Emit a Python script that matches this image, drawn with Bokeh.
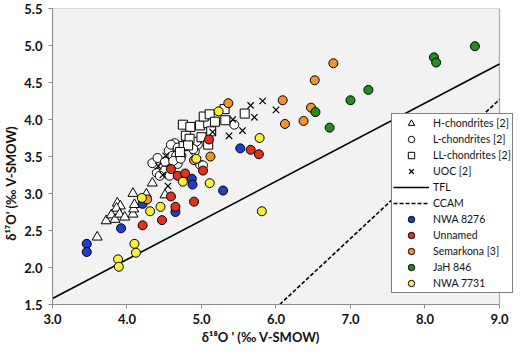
from bokeh.plotting import figure
from bokeh.models import (FixedTicker, PrintfTickFormatter, Legend, LegendItem,
                          BoxAnnotation)
from bokeh.embed import file_html
from bokeh.resources import INLINE

# ---------------- data ----------------
x_ticks = [3.0, 4.0, 5.0, 6.0, 7.0, 8.0, 9.0]
y_ticks = [1.5, 2.0, 2.5, 3.0, 3.5, 4.0, 4.5, 5.0, 5.5]

h_x = [3.60, 3.72, 3.79, 3.84, 3.87, 3.91, 3.86, 3.90, 3.97, 4.08, 4.09, 4.08, 4.10, 4.26, 4.34, 4.51]
h_y = [2.41, 2.63, 2.71, 2.65, 2.87, 2.83, 2.80, 2.72, 2.68, 2.72, 2.79, 3.00, 2.85, 2.99, 3.14, 2.98]

l_x = [4.34, 4.41, 4.40, 4.48, 4.50, 4.56, 4.64, 4.61, 4.66, 4.73, 4.68, 4.44, 4.57, 4.59, 4.51,
       4.62, 4.72, 4.91, 4.95, 4.98, 5.02, 5.44, 4.93, 4.89, 4.68]
l_y = [3.41, 3.48, 3.28, 3.36, 3.31, 3.58, 3.68, 3.51, 3.51, 3.51, 3.40, 3.24, 3.24, 3.66, 3.43,
       3.44, 3.47, 3.57, 3.66, 3.39, 3.38, 3.93, 3.70, 3.60, 3.62]

ll_x = [4.75, 4.85, 4.98, 5.09, 5.03, 5.11, 5.18, 5.31, 5.32, 5.58, 4.79, 4.84, 5.00, 5.13, 4.76, 4.82, 5.09, 4.71]
ll_y = [3.93, 3.90, 3.92, 3.95, 4.04, 4.07, 3.97, 4.14, 3.99, 4.08, 3.78, 3.74, 3.76, 3.84, 3.64, 3.65, 3.66, 3.56]

uoc_x = [5.66, 5.82, 6.00, 5.71, 5.55, 5.37, 5.42, 5.15, 4.52, 4.48, 4.55, 4.42]
uoc_y = [4.19, 4.25, 4.13, 4.03, 3.85, 3.78, 4.00, 3.83, 3.51, 3.25, 3.10, 3.37]

tfl_x = [3.0, 9.0]
tfl_y = [1.58, 4.75]

ccam_x = [6.05, 9.0]
ccam_y = [1.50, 4.27]

nwa8276_x = [3.46, 3.46, 3.92, 4.21, 4.65, 4.87, 4.88, 5.29, 5.52]
nwa8276_y = [2.32, 2.21, 2.53, 2.86, 2.75, 3.20, 3.12, 3.04, 3.61]

unnamed_x = [4.21, 4.47, 4.59, 4.65, 4.59, 4.68, 4.78, 5.02, 4.90, 5.10, 5.66, 5.77]
unnamed_y = [2.57, 2.64, 2.96, 2.82, 3.33, 3.24, 3.27, 3.31, 2.89, 3.73, 3.59, 3.53]

semarkona_x = [4.27, 4.90, 5.12, 5.36, 6.09, 6.12, 6.37, 6.47, 6.52, 6.77]
semarkona_y = [2.92, 3.45, 3.50, 4.22, 4.26, 3.94, 3.98, 4.16, 4.53, 4.76]

jah_x = [8.67, 8.12, 8.15, 7.24, 7.00, 6.53, 6.72]
jah_y = [4.99, 4.84, 4.77, 4.40, 4.26, 4.10, 3.89]

nwa7731_x = [3.88, 3.89, 4.10, 4.12, 4.20, 4.31, 4.45, 4.75, 5.11, 4.93, 5.23, 5.78, 5.81]
nwa7731_y = [2.11, 2.01, 2.32, 2.20, 2.94, 2.76, 2.82, 3.16, 3.14, 3.47, 4.11, 3.75, 2.76]

labels = ["H-chondrites [2]", "L-chondrites [2]", "LL-chondrites [2]", "UOC [2]", "TFL", "CCAM",
          "NWA 8276", "Unnamed", "Semarkona [3]", "JaH 846", "NWA 7731"]

x_min, x_max = 3.0, 9.0
y_min, y_max = 1.5, 5.5

# ---------------- figure ----------------
FONT = "Lato"
NB = "\u00a0"
p = figure(width=518, height=347, x_range=(x_min, 9.188), y_range=(y_min, y_max),
           output_backend="svg", toolbar_location=None,
           min_border_left=52, min_border_right=5, min_border_top=8, min_border_bottom=42,
           background_fill_color="white", border_fill_color="white")
p.outline_line_color = None
p.xgrid.visible = False
p.ygrid.visible = False

# plot-area box (grey fill, dark border) spanning the axis limits
p.add_layout(BoxAnnotation(left=x_min, right=x_max, bottom=y_min, top=y_max,
                           fill_color="#f2f2f2", fill_alpha=1.0,
                           line_color="black", line_width=1.2, level="underlay"))

for ax, ticks in ((p.xaxis[0], x_ticks), (p.yaxis[0], y_ticks)):
    ax.ticker = FixedTicker(ticks=ticks)
    ax.formatter = PrintfTickFormatter(format="%.1f")
    ax.axis_line_color = "#8c8c8c"
    ax.major_tick_line_color = "#8c8c8c"
    ax.major_tick_in = 0
    ax.major_tick_out = 4
    ax.minor_tick_line_color = None
    ax.major_label_text_font = FONT
    ax.major_label_text_font_style = "bold"
    ax.major_label_text_font_size = "13px"
    ax.major_label_text_color = "#111111"
    ax.axis_label_text_font = FONT
    ax.axis_label_text_font_style = "bold"
    ax.axis_label_text_font_size = "13px"
    ax.axis_label_text_color = "#111111"
    ax.axis_label_standoff = 2
p.xaxis.bounds = (x_min, x_max)
p.xaxis.major_label_standoff = 5
p.yaxis.major_label_standoff = 6
p.xaxis.axis_label = "δ¹⁸O ' (‰ V-SMOW)" + NB * 14
p.yaxis.axis_label = "δ¹⁷O' (‰ V-SMOW)" + NB * 17

r_tfl = p.line(tfl_x, tfl_y, line_color="black", line_width=1.6)
r_ccam = p.line(ccam_x, ccam_y, line_color="black", line_width=1.6, line_dash="4 2")

r_h = p.scatter(h_x, h_y, marker="triangle", size=10, fill_color="white", line_color="black", line_width=1)
r_l = p.scatter(l_x, l_y, marker="circle", size=9, fill_color="white", line_color="black", line_width=1)
r_ll = p.scatter(ll_x, ll_y, marker="square", size=9, fill_color="white", line_color="black", line_width=1)
r_uoc = p.scatter(uoc_x, uoc_y, marker="x", size=9, line_color="black", line_width=1.2)

r_b = p.scatter(nwa8276_x, nwa8276_y, marker="circle", size=9, fill_color="#1f3fc8", line_color="black", line_width=1)
r_r = p.scatter(unnamed_x, unnamed_y, marker="circle", size=9, fill_color="#e2321d", line_color="black", line_width=1)
r_o = p.scatter(semarkona_x, semarkona_y, marker="circle", size=9, fill_color="#f0952e", line_color="black", line_width=1)
r_g = p.scatter(jah_x, jah_y, marker="circle", size=9, fill_color="#1f8f1f", line_color="black", line_width=1)
r_y = p.scatter(nwa7731_x, nwa7731_y, marker="circle", size=9, fill_color="#f7ef3a", line_color="black", line_width=1)

rends = [r_h, r_l, r_ll, r_uoc, r_tfl, r_ccam, r_b, r_r, r_o, r_g, r_y]
legend = Legend(items=[LegendItem(label=lab, renderers=[r]) for lab, r in zip(labels, rends)],
                location=(339, 11), orientation="vertical",
                label_text_font=FONT, label_text_font_size="10.5px", label_text_color="#111111",
                label_height=16, glyph_height=16, glyph_width=36, label_standoff=4,
                spacing=0, padding=1, margin=0,
                border_line_color="black", border_line_width=1,
                background_fill_color="white", background_fill_alpha=1.0)
p.add_layout(legend, "center")

open("out.html", "w").write(file_html(p, INLINE))
